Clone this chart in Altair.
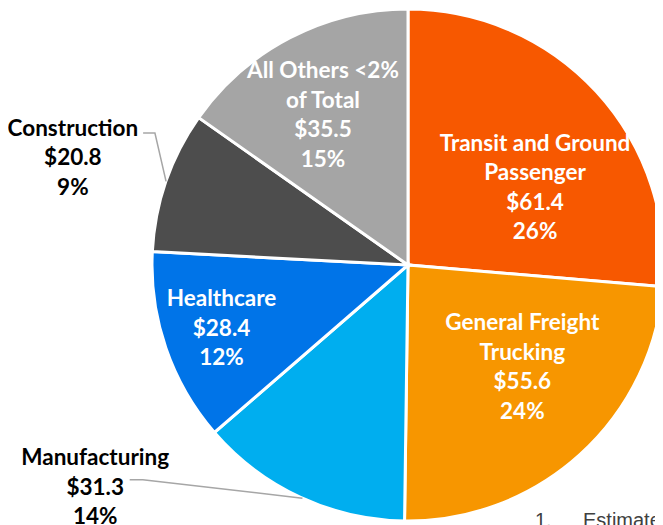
import math
import pandas as pd
import altair as alt

# ---- data ----
categories = ["Transit and Ground Passenger", "General Freight Trucking", "Manufacturing",
              "Healthcare", "Construction", "All Others <2% of Total"]
label_names = ["Transit and Ground\nPassenger", "General Freight\nTrucking", "Manufacturing",
               "Healthcare", "Construction", "All Others <2%\nof Total"]
values = [61.4, 55.6, 31.3, 28.4, 20.8, 35.5]
percents = [26, 24, 14, 12, 9, 15]
footnote_num = "1."
footnote_text = "Estimates"

# ---- styling / layout ----
colors = ["#F75800", "#F79600", "#00AEEF", "#0074E8", "#4D4D4D", "#A5A5A5"]
inside = [True, True, False, True, False, True]
# label block centre: (angle shift from slice middle in degrees, radius as fraction of pie radius)
label_polar = [(11.4, 0.58), (-5.9, 0.60), (29.6, 1.50), (0.0, 0.77), (-1.4, 1.374), (-2.2, 0.672)]
# leader lines for outside labels: rim, elbow and end (angle shift from middle, radius fraction)
leader_polar = {2: [(-0.6, 1.0), (26.05, 1.333), (27.4, 1.373)],
                4: [(0.0, 1.0), (8.47, 1.115), (7.4, 1.156)]}

R = 256            # pie radius in px
CX, CY = 400, 257  # pie centre inside the view
W, H = 647, 517
FS, LH = 22.5, 29.5

xdom = [-CX / R, (W - CX) / R]
ydom = [-(H - CY) / R, CY / R]
xs = alt.Scale(domain=xdom, nice=False, zero=False)
ys = alt.Scale(domain=ydom, nice=False, zero=False)

total = sum(values)
cum = 0.0
rows, lrows, leaders = [], [], []
for i, (c, n, v, p) in enumerate(zip(categories, label_names, values, percents)):
    mid = (cum + v / 2) / total * 360
    cum += v
    rows.append({"cat": c, "value": v, "idx": i, "color": colors[i]})
    da, rf = label_polar[i]
    a = math.radians(mid + da)
    text = f"{n}\n${v:.1f}\n{p}%"
    nlines = text.count("\n") + 1
    # Vega anchors the first line; shift up so the block is centred
    lrows.append({"label": text, "x": rf * math.sin(a),
                  "y": rf * math.cos(a) + (nlines - 1) * LH / 2 / R,
                  "inside": inside[i]})
    if i in leader_polar:
        for k, (dd, rr) in enumerate(leader_polar[i]):
            aa = math.radians(mid + dd)
            leaders.append({"g": i, "k": k, "x": rr * math.sin(aa), "y": rr * math.cos(aa)})

df = pd.DataFrame(rows)
ldf = pd.DataFrame(lrows)
lead = pd.DataFrame(leaders)

pie = alt.Chart(df).mark_arc(radius=R, stroke="white", strokeWidth=3).encode(
    theta=alt.Theta("value:Q", stack=True),
    order=alt.Order("idx:Q", sort="ascending"),
    color=alt.Color("color:N", scale=None),
    x=alt.X(datum=0, type="quantitative", scale=xs, axis=None),
    y=alt.Y(datum=0, type="quantitative", scale=ys, axis=None),
)

lines = alt.Chart(lead).mark_line(color="#A6A6A6", strokeWidth=1.5).encode(
    x=alt.X("x:Q", scale=xs, axis=None),
    y=alt.Y("y:Q", scale=ys, axis=None),
    detail="g:N",
    order="k:Q",
)

text_props = dict(align="center", baseline="middle", lineBreak="\n", font="Lato",
                  fontWeight="bold", fontSize=FS, lineHeight=LH)

in_text = alt.Chart(ldf[ldf.inside]).mark_text(color="white", **text_props).encode(
    x=alt.X("x:Q", scale=xs, axis=None),
    y=alt.Y("y:Q", scale=ys, axis=None),
    text="label:N",
)
out_text = alt.Chart(ldf[~ldf.inside]).mark_text(color="black", **text_props).encode(
    x=alt.X("x:Q", scale=xs, axis=None),
    y=alt.Y("y:Q", scale=ys, axis=None),
    text="label:N",
)

foot = pd.DataFrame({"t": [footnote_num, footnote_text], "k": [0, 1]})
foot_props = dict(align="left", baseline="alphabetic", font="Liberation Sans", fontSize=20, color="#404040")
foot1 = alt.Chart(foot[foot.k == 0]).mark_text(**foot_props).encode(
    x=alt.value(527), y=alt.value(519), text="t:N")
foot2 = alt.Chart(foot[foot.k == 1]).mark_text(**foot_props).encode(
    x=alt.value(575), y=alt.value(519), text="t:N")

chart = alt.layer(pie, lines, in_text, out_text, foot1, foot2).properties(
    width=W, height=H, padding=0,
    autosize=alt.AutoSizeParams(type="none"),
).configure_view(stroke=None)

chart.save("out.html", embed_options={"renderer": "svg", "actions": False})
